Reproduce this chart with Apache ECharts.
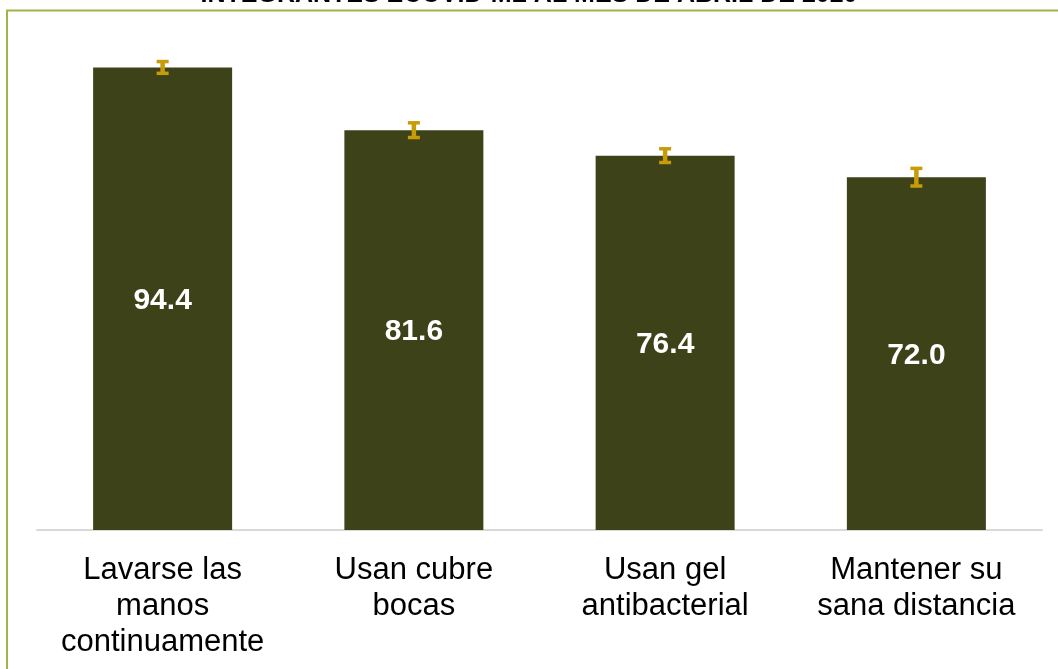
<!DOCTYPE html>
<html>
<head>
<meta charset="utf-8">
<style>
  html, body { margin: 0; padding: 0; background: #ffffff; }
  #chart { width: 1058px; height: 669px; }
</style>
<script src="https://cdn.jsdelivr.net/npm/echarts@6/dist/echarts.min.js"></script>
</head>
<body>
<div id="chart"></div>
<script>
// Prevention measures reported by respondents (percent)
const categories = [
  'Lavarse las\nmanos\ncontinuamente',
  'Usan cubre\nbocas',
  'Usan gel\nantibacterial',
  'Mantener su\nsana distancia'
];
const values = [94.4, 81.6, 76.4, 72.0];
// Half-width of each confidence interval (percentage points)
const errors = [1.2, 1.5, 1.4, 1.8];
const titleText = 'INTEGRANTES ECOVID-ML AL MES DE ABRIL DE 2020';

const FONT = '"Liberation Sans", Arial, sans-serif';
const BAR_COLOR = '#3d4219';
const ERR_COLOR = '#c89c08';

const chart = echarts.init(document.getElementById('chart'));

const errorData = values.map((v, i) => [i, v - errors[i], v + errors[i]]);

chart.setOption({
  animation: false,
  title: {
    text: titleText,
    left: 'center',
    top: -22,
    textStyle: { fontFamily: FONT, fontSize: 25, fontWeight: 'bold', color: '#000', lineHeight: 25 }
  },
  graphic: [{
    type: 'rect',
    shape: { x: 7, y: 10.5, width: 1200, height: 800 },
    style: { fill: 'none', stroke: '#a3b347', lineWidth: 2 },
    silent: true
  }],
  grid: { left: 37, right: 16, top: 40, bottom: 139 },
  xAxis: {
    type: 'category',
    data: categories,
    axisTick: { show: false },
    axisLine: { lineStyle: { color: '#d9d9d9', width: 2 } },
    axisLabel: {
      interval: 0,
      margin: 22,
      fontFamily: FONT,
      fontSize: 31,
      lineHeight: 36,
      color: '#000'
    }
  },
  yAxis: {
    type: 'value',
    min: 0,
    max: 100,
    show: false,
    splitLine: { show: false }
  },
  series: [
    {
      type: 'bar',
      data: values,
      barWidth: 139,
      itemStyle: { color: BAR_COLOR },
      label: {
        show: true,
        position: 'inside',
        offset: [0, 2],
        formatter: p => p.value.toFixed(1),
        fontFamily: FONT,
        fontSize: 30,
        fontWeight: 'bold',
        color: '#fff'
      },
      z: 2
    },
    {
      type: 'custom',
      data: errorData,
      z: 5,
      renderItem: (params, api) => {
        const x = api.coord([api.value(0), api.value(1)])[0];
        const lo = api.coord([api.value(0), api.value(1)])[1];
        const hi = api.coord([api.value(0), api.value(2)])[1];
        const half = 6;
        const stem = { stroke: ERR_COLOR, lineWidth: 4.5 };
        const cap = { stroke: ERR_COLOR, lineWidth: 3.5 };
        return {
          type: 'group',
          children: [
            { type: 'line', shape: { x1: x, y1: hi, x2: x, y2: lo }, style: stem },
            { type: 'line', shape: { x1: x - half, y1: hi, x2: x + half, y2: hi }, style: cap },
            { type: 'line', shape: { x1: x - half, y1: lo, x2: x + half, y2: lo }, style: cap }
          ]
        };
      }
    }
  ]
});
</script>
</body>
</html>
